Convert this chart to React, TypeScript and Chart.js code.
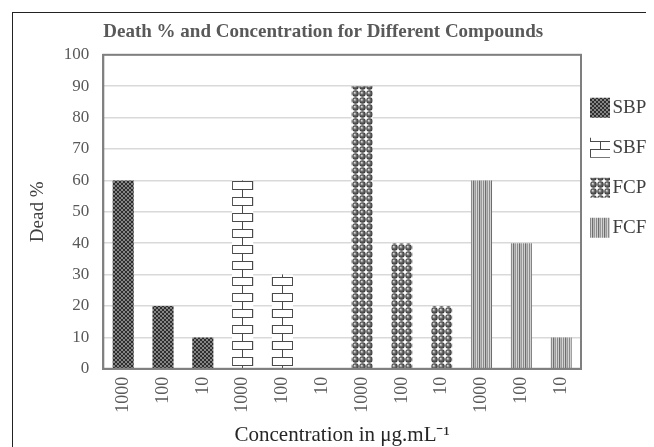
import { useEffect, useRef } from 'react';
import { Chart, registerables } from 'chart.js';

Chart.register(...registerables);

const categories = ['1000', '100', '10', '1000', '100', '10', '1000', '100', '10', '1000', '100', '10'];
const seriesNames = ['SBPC', 'SBFR', 'FCPC', 'FCFR'];
const sbpcValues = [60, 20, 10, null, null, null, null, null, null, null, null, null];
const sbfrValues = [null, null, null, 60, 30, 0, null, null, null, null, null, null];
const fcpcValues = [null, null, null, null, null, null, 90, 40, 20, null, null, null];
const fcfrValues = [null, null, null, null, null, null, null, null, null, 60, 40, 10];
const yMin = 0;
const yMax = 100;
const yStep = 10;
const chartTitle = 'Death % and Concentration for Different Compounds';
const xTitle = 'Concentration in \u03bcg.mL\u207b\u00b9';
const yTitle = 'Dead %';

type Painter = (g: CanvasRenderingContext2D, w: number, h: number) => void;

function makeTile(w: number, h: number, draw: Painter): HTMLCanvasElement {
  const c = document.createElement('canvas');
  c.width = w;
  c.height = h;
  const g = c.getContext('2d') as CanvasRenderingContext2D;
  draw(g, w, h);
  return c;
}

function buildTiles() {
  const checker = makeTile(4, 4, (g) => {
    g.fillStyle = '#2e2e2e';
    g.fillRect(0, 0, 4, 4);
    g.fillStyle = '#858585';
    g.fillRect(0, 0, 2, 2);
    g.fillRect(2, 2, 2, 2);
  });
  const brick = makeTile(21, 16, (g) => {
    g.fillStyle = '#ffffff';
    g.fillRect(0, 0, 21, 16);
    g.fillStyle = '#4a4a4a';
    g.fillRect(0, 0, 21, 1);
    g.fillRect(0, 8, 21, 1);
    g.fillRect(10, 0, 1, 8);
    g.fillRect(0, 8, 1, 8);
    g.fillRect(20, 8, 1, 8);
  });
  const balls = makeTile(7, 7, (g) => {
    g.fillStyle = '#ffffff';
    g.fillRect(0, 0, 7, 7);
    const grad = g.createRadialGradient(2.6, 2.6, 0.3, 3.5, 3.5, 3.6);
    grad.addColorStop(0, '#d8d8d8');
    grad.addColorStop(0.4, '#6a6a6a');
    grad.addColorStop(1, '#262626');
    g.fillStyle = grad;
    g.beginPath();
    g.arc(3.5, 3.5, 3.2, 0, Math.PI * 2);
    g.fill();
  });
  const stripes = makeTile(6, 2, (g) => {
    const cols = ['#8a8a8a', '#cfcfcf', '#6e6e6e', '#b8b8b8', '#9a9a9a', '#d6d6d6'];
    cols.forEach((c, i) => {
      g.fillStyle = c;
      g.fillRect(i, 0, 1, 2);
    });
  });
  return [checker, brick, balls, stripes];
}

const framePlugin = {
  id: 'plotFrame',
  afterDatasetsDraw(chart: any) {
    const { ctx, chartArea } = chart;
    ctx.save();
    ctx.strokeStyle = '#7f7f7f';
    ctx.lineWidth = 2;
    ctx.strokeRect(chartArea.left, chartArea.top, chartArea.right - chartArea.left, chartArea.bottom - chartArea.top);
    ctx.restore();
  },
};

const patternAlignPlugin = {
  id: 'patternAlign',
  beforeDatasetsDraw(chart: any) {
    chart.data.datasets.forEach((ds: any, di: number) => {
      const meta = chart.getDatasetMeta(di);
      meta.data.forEach((el: any, i: number) => {
        const p = Array.isArray(ds.backgroundColor) ? ds.backgroundColor[i] : null;
        if (p && typeof p.setTransform === 'function' && isFinite(el.x) && isFinite(el.width)) {
          p.setTransform(new DOMMatrix().translate(Math.round(el.x - el.width / 2), 0));
        }
      });
    });
  },
};

export default function App() {
  const ref = useRef<HTMLCanvasElement>(null);

  useEffect(() => {
    const canvas = ref.current as HTMLCanvasElement;
    const ctx = canvas.getContext('2d') as CanvasRenderingContext2D;
    const tiles = buildTiles();
    const seriesValues = [sbpcValues, sbfrValues, fcpcValues, fcfrValues];
    const legendPatterns = tiles.map((t) => ctx.createPattern(t, 'repeat'));

    const datasets = seriesValues.map((vals, si) => ({
      label: seriesNames[si],
      data: vals,
      backgroundColor: vals.map((v) => (v == null ? 'rgba(0,0,0,0)' : ctx.createPattern(tiles[si], 'repeat'))),
      borderWidth: 0,
      grouped: false,
      barPercentage: 0.53,
      categoryPercentage: 1,
    }));

    const legendPlugin = {
      id: 'legendPatternAlign',
      beforeDraw(chart: any) {
        const lg = chart.legend;
        if (!lg) return;
        legendPatterns.forEach((p: any) => {
          if (p && typeof p.setTransform === 'function') {
            p.setTransform(new DOMMatrix().translate(Math.round(lg.left + 9), 0));
          }
        });
      },
    };

    Chart.defaults.font.family = '"Liberation Serif", "Times New Roman", serif';

    const chart = new Chart(canvas, {
      type: 'bar',
      data: { labels: categories, datasets: datasets as any },
      options: {
        responsive: false,
        animation: false,
        devicePixelRatio: 1,
        layout: { padding: 0 },
        scales: {
          x: {
            grid: { display: false, drawTicks: false },
            border: { display: true, color: '#8c8c8c', width: 2 },
            ticks: {
              minRotation: 90,
              maxRotation: 90,
              autoSkip: false,
              padding: 8,
              color: '#595959',
              font: { size: 18 },
            },
            title: {
              display: true,
              text: xTitle,
              color: '#262626',
              font: { size: 21 },
              padding: { top: 2, bottom: 18 },
            },
          },
          y: {
            min: yMin,
            max: yMax,
            ticks: { stepSize: yStep, padding: 14, color: '#595959', font: { size: 17 } },
            grid: { color: '#d9d9d9', lineWidth: 1.5, drawTicks: false },
            border: { color: '#8c8c8c', width: 2 },
            title: {
              display: true,
              text: yTitle,
              color: '#404040',
              font: { size: 19 },
              padding: { top: 14, bottom: 0 },
            },
          },
        },
        plugins: {
          title: {
            display: true,
            text: chartTitle,
            align: 'start',
            fullSize: false,
            color: '#595959',
            font: { size: 19, weight: 'bold' },
            padding: { top: 8, bottom: 11 },
          },
          legend: {
            position: 'right',
            align: 'start',
            fullSize: false,
            maxWidth: 78,
            title: { display: true, text: ' ', font: { size: 10 }, padding: 11 },
            labels: {
              boxWidth: 20,
              boxHeight: 20,
              padding: 9,
              color: '#404040',
              font: { size: 19, lineHeight: 31 / 19 },
              textAlign: 'right',
              generateLabels: (c: any) => {
                const items = (Chart.defaults.plugins.legend.labels as any).generateLabels(c);
                return items.map((it: any, i: number) => ({
                  ...it,
                  text: [it.text],
                  fillStyle: legendPatterns[i],
                  strokeStyle: 'rgba(0,0,0,0)',
                  lineWidth: 0,
                  textAlign: 'right',
                  fontColor: '#404040',
                }));
              },
            },
          },
          tooltip: { enabled: false },
        },
      } as any,
      plugins: [patternAlignPlugin, framePlugin, legendPlugin],
    });

    return () => chart.destroy();
  }, []);

  return (
    <div style={{ position: 'relative', width: 646, height: 439, overflow: 'hidden' }}>
      <div
        style={{
          position: 'absolute',
          left: 4,
          top: 4,
          width: 700,
          height: 500,
          borderLeft: '1px solid #222',
          borderTop: '1px solid #222',
          background: '#fff',
        }}
      >
        <canvas ref={ref} width={646} height={453} style={{ display: 'block', width: 646, height: 453 }} />
      </div>
    </div>
  );
}
